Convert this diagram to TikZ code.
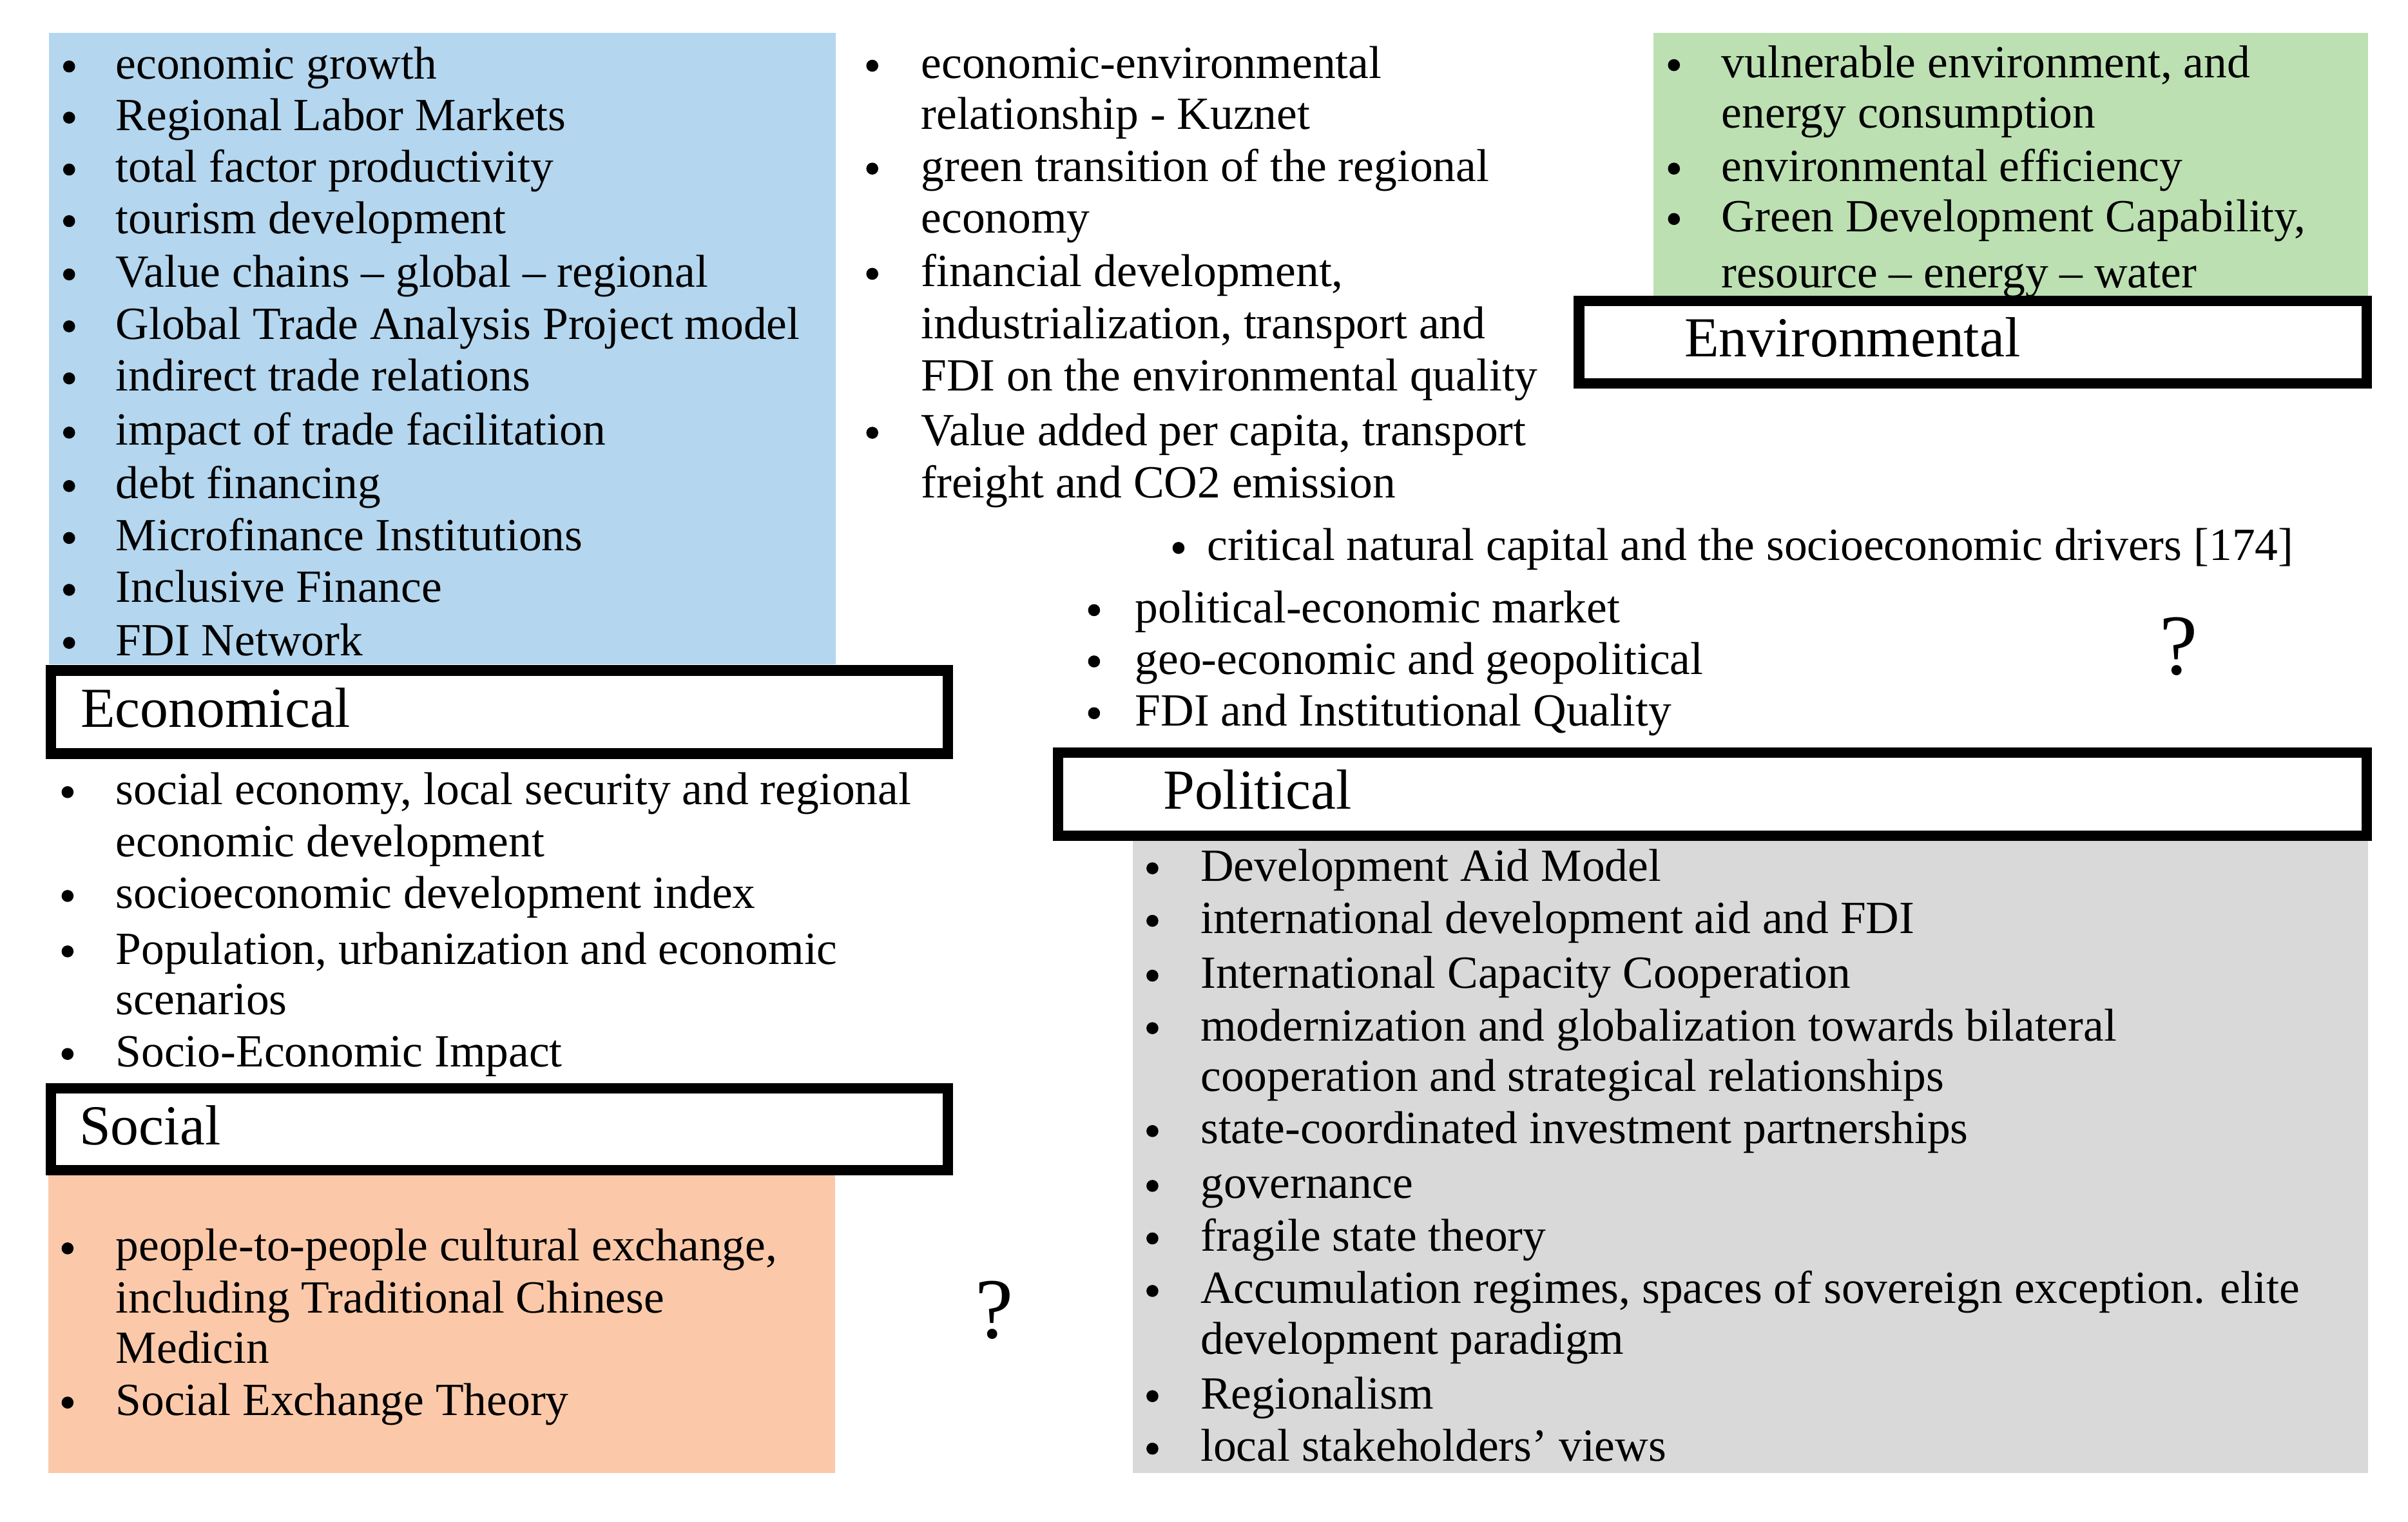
\documentclass[tikz,border=0pt]{standalone}
\usepackage{fontspec}
\setmainfont{Liberation Serif}
\definecolor{econblue}{HTML}{B4D6EE}
\definecolor{envgreen}{HTML}{BCE0B2}
\definecolor{socorange}{HTML}{FBC9A9}
\definecolor{polgrey}{HTML}{D9D9D9}
\newcounter{ln}
\newcommand{\Itm}[4]{\stepcounter{ln}\node[bul] (b\theln) at ({#1},{#3-8.2}) {};\node[txt] (t\theln) at (#2,#3) {#4};}
\newcommand{\Cnt}[3]{\stepcounter{ln}\node[txt] (t\theln) at (#1,#2) {#3};}
\begin{document}
\begin{tikzpicture}[x=0.5pt,y=-0.5pt,
  txt/.style={anchor=base west, inner sep=0pt, font=\fontsize{15pt}{17pt}\selectfont},
  bul/.style={circle, fill=black, inner sep=0pt, minimum size=3.9pt},
  lbl/.style={anchor=base west, inner sep=0pt, font=\fontsize{18.4pt}{20pt}\selectfont},
  qmark/.style={anchor=base, inner sep=0pt, font=\fontsize{28pt}{30pt}\selectfont},
  hdrbox/.style={draw=black, line width=3.4pt},
]
\useasboundingbox (0,0) rectangle (1568,991);
% colour fills
\fill[econblue] (31.8,21.5) rectangle (544,432.7);
\fill[envgreen] (1076.8,21.5) rectangle (1541.9,192.6);
\fill[socorange] (31.3,763.8) rectangle (543.8,959);
\fill[polgrey] (737.8,545.9) rectangle (1541.8,959);
% header boxes
\draw[hdrbox] (33.3,436.6) rectangle (617.2,490.7);
\draw[hdrbox] (33.3,708.7) rectangle (617.2,762);
\draw[hdrbox] (1028.2,195.9) rectangle (1541,249.6);
\draw[hdrbox] (689,490.2) rectangle (1541,544.2);
\node[lbl] (econ) at (52.2,473.3) {Economical};
\node[lbl] (soc) at (51.3,745.3) {Social};
\node[lbl] (env) at (1096.5,232.3) {Environmental};
\node[lbl] (pol) at (757.1,526.6) {Political};
% economical (blue)
\Itm{45}{75}{51.5}{economic growth}
\Itm{45}{75}{84.8}{Regional Labor Markets}
\Itm{45}{75}{118.6}{total factor productivity}
\Itm{45}{75}{152.2}{tourism development}
\Itm{45}{75}{186.9}{Value chains – global – regional}
\Itm{45}{75}{220.7}{Global Trade Analysis Project model}
\Itm{45}{75}{254.6}{indirect trade relations}
\Itm{45}{75}{289.9}{impact of trade facilitation}
\Itm{45}{75}{324.7}{debt financing}
\Itm{45}{75}{358.5}{Microfinance Institutions}
\Itm{45}{75}{392.3}{Inclusive Finance}
\Itm{45}{75}{426.8}{FDI Network}
% economical-environmental (middle)
\Itm{568}{599.4}{51}{economic-environmental}
\Cnt{599.4}{84}{relationship - Kuznet}
\Itm{568}{599.4}{118}{green transition of the regional}
\Cnt{599.4}{151.5}{economy}
\Itm{568}{599.4}{186.5}{financial development,}
\Cnt{599.4}{220.5}{industrialization, transport and}
\Cnt{599.4}{254.6}{FDI on the environmental quality}
\Itm{568}{599.4}{290}{Value added per capita, transport}
\Cnt{599.4}{324}{freight and CO2 emission}
% environmental (green)
\Itm{1090}{1120.7}{50.6}{vulnerable environment, and}
\Cnt{1120.7}{83.4}{energy consumption}
\Itm{1090}{1120.7}{118}{environmental efficiency}
\Itm{1090}{1120.7}{150.8}{Green Development Capability,}
\Cnt{1120.7}{187.3}{resource – energy – water}
% environmental-political-social
\Itm{767.4}{785.7}{365}{critical natural capital and the socioeconomic drivers [174]}
% economical-political
\Itm{712.4}{738.8}{405.5}{political-economic market}
\Itm{712.4}{738.8}{438.9}{geo-economic and geopolitical}
\Itm{712.4}{738.8}{472.6}{FDI and Institutional Quality}
\node[qmark] (q1) at (1418.5,439.3) {?};
% economical-social
\Itm{44}{75}{524}{social economy, local security and regional}
\Cnt{75}{557.8}{economic development}
\Itm{44}{75}{591.6}{socioeconomic development index}
\Itm{44}{75}{627.7}{Population, urbanization and economic}
\Cnt{75}{660.8}{scenarios}
\Itm{44}{75}{694.5}{Socio-Economic Impact}
% social (orange)
\Itm{44}{75}{821.1}{people-to-people cultural exchange,}
\Cnt{75}{855}{including Traditional Chinese}
\Cnt{75}{887.7}{Medicin}
\Itm{44}{75}{921.5}{Social Exchange Theory}
\node[qmark] (q2) at (647.6,871.4) {?};
% political (grey)
\Itm{750.4}{781.4}{573.6}{Development Aid Model}
\Itm{750.4}{781.4}{607.8}{international development aid and FDI}
\Itm{750.4}{781.4}{643.5}{International Capacity Cooperation}
\Itm{750.4}{781.4}{677.7}{modernization and globalization towards bilateral}
\Cnt{781.4}{710.5}{cooperation and strategical relationships}
\Itm{750.4}{781.4}{744.7}{state-coordinated investment partnerships}
\Itm{750.4}{781.4}{780.4}{governance}
\Itm{750.4}{781.4}{814.6}{fragile state theory}
\Itm{750.4}{781.4}{848.8}{Accumulation regimes, spaces of sovereign exception. elite}
\Cnt{781.4}{881.6}{development paradigm}
\Itm{750.4}{781.4}{917.3}{Regionalism}
\Itm{750.4}{781.4}{951.5}{local stakeholders’ views}
\end{tikzpicture}
\end{document}
